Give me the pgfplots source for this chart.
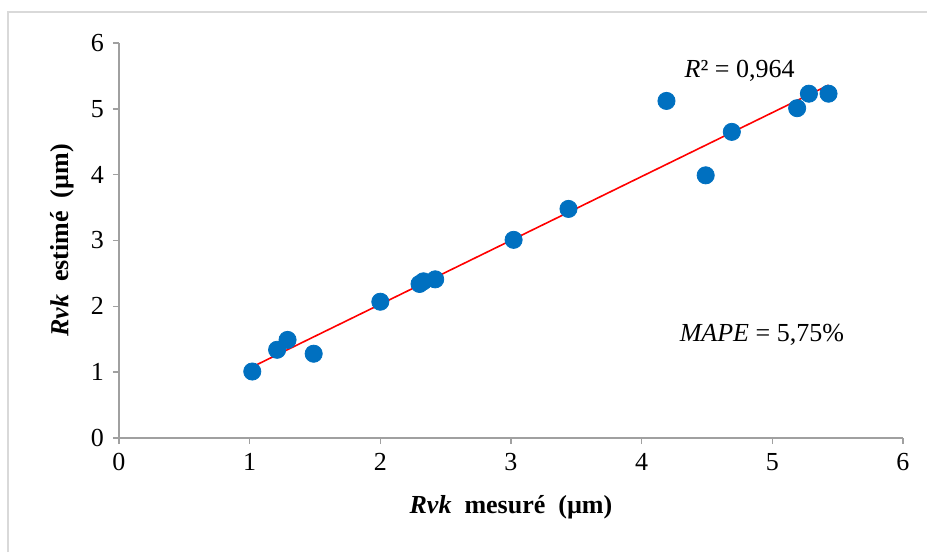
\documentclass[border=0pt]{standalone}
\usepackage{pgfplots}
\pgfplotsset{compat=1.18}
\usepackage{fontspec}
\setmainfont{Liberation Serif}
\definecolor{ptblue}{RGB}{0,112,192}
\definecolor{axgray}{RGB}{160,160,160}
\begin{document}
\begin{tikzpicture}[x=1pt,y=1pt]
\path[use as bounding box] (0,0) rectangle (463.5,276);
\draw[color={rgb,255:red,217;green,217;blue,217},line width=1pt] (4,0) -- (4,270) -- (463.5,270);
\begin{axis}[
  at={(59.5pt,57pt)}, anchor=south west,
  scale only axis, width=392pt, height=197.5pt,
  xmin=0, xmax=6, ymin=0, ymax=6,
  xtick={0,1,...,6}, ytick={0,1,...,6},
  axis x line=bottom, axis y line=left,
  axis line style={draw=axgray,line width=0.75pt,-},
  tick style={draw=axgray,line width=0.75pt},
  tick align=outside, major tick length=3pt,
  /pgf/number format/assume math mode=true,
  ticklabel style={font=\fontsize{13}{15}\selectfont},
  xticklabel style={yshift=-1pt},
  yticklabel style={xshift=-1pt},
  xlabel={\textbf{\textit{Rvk}\ \ mesuré\ \ (µm)}},
  ylabel={\textbf{\textit{Rvk}\ \ estimé\ \ (µm)}},
  label style={font=\fontsize{13}{15}\selectfont},
  xlabel style={at={(axis description cs:0.5,-0.175)}, anchor=center},
  ylabel style={at={(axis description cs:-0.0727,0.5)}, anchor=center},
  clip=false,
]
\addplot[only marks, mark=*, mark size=4.3pt, mark options={fill=ptblue,draw=ptblue}] coordinates {
(1.02,1.01) (1.21,1.34) (1.29,1.49) (1.49,1.28) (2.00,2.07)
(2.30,2.34) (2.33,2.38) (2.42,2.41) (3.02,3.01) (3.44,3.48)
(4.19,5.12) (4.49,3.99) (4.69,4.65) (5.19,5.01) (5.28,5.23) (5.43,5.23)
};
\addplot[red, line width=0.8pt] coordinates {(1.02,1.08) (5.43,5.36)};
\node[font=\fontsize{13}{15}\selectfont] at (axis cs:4.75,5.57) {\textit{R}² = 0,964};
\node[font=\fontsize{13}{15}\selectfont] at (axis cs:4.92,1.565) {\textit{MAPE} = 5,75\%};
\end{axis}
\end{tikzpicture}
\end{document}
